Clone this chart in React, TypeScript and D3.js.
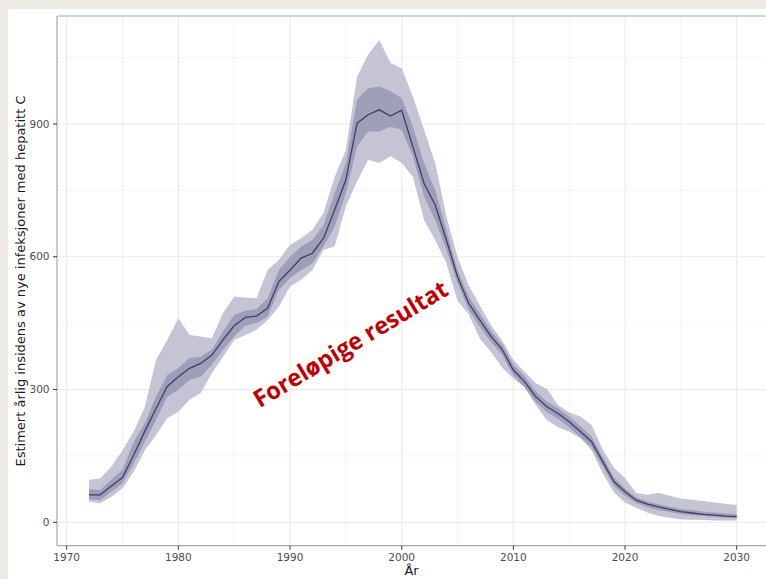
import React from 'react';
import * as d3 from 'd3';

// Estimated annual incidence of new hepatitis C infections, with uncertainty bands
const years: number[] = d3.range(1972, 2031);

const median: number[] = [
  62, 62, 82, 101, 152, 206, 257, 307, 329, 348,
  359, 378, 412, 444, 463, 466, 484, 544, 570, 597,
  608, 642, 706, 774, 902, 921, 932, 918, 931, 849,
  766, 717, 638, 555, 495, 457, 420, 390, 344, 318,
  284, 261, 246, 227, 205, 182, 137, 92, 69, 50,
  41, 35, 29, 24, 21, 18, 16, 14, 13,
];

const outerHigh: number[] = [
  96, 99, 126, 163, 205, 261, 367, 412, 461, 423,
  420, 416, 473, 510, 508, 506, 570, 593, 627, 642,
  661, 699, 781, 842, 1007, 1057, 1090, 1038, 1026, 962,
  887, 812, 691, 600, 535, 490, 445, 410, 367, 340,
  314, 302, 265, 248, 239, 220, 165, 123, 100, 66,
  62, 67, 60, 54, 51, 48, 45, 42, 39,
];

const outerLow: number[] = [
  47, 43, 58, 77, 114, 163, 197, 235, 250, 277,
  292, 337, 374, 412, 423, 435, 457, 487, 533, 548,
  570, 616, 623, 714, 770, 819, 812, 827, 812, 781,
  683, 638, 586, 500, 470, 415, 385, 350, 325, 305,
  265, 231, 215, 205, 190, 163, 110, 68, 45, 33,
  22, 14, 10, 7, 6, 5, 4, 4, 4,
];

const innerHigh: number[] = [
  75, 73, 96, 118, 182, 224, 284, 333, 348, 371,
  374, 390, 431, 469, 478, 482, 506, 570, 600, 623,
  638, 672, 744, 812, 955, 981, 985, 974, 959, 894,
  812, 751, 661, 570, 510, 472, 433, 402, 356, 330,
  296, 273, 258, 239, 217, 194, 148, 102, 76, 56,
  47, 41, 35, 30, 27, 24, 22, 20, 19,
];

const innerLow: number[] = [
  52, 50, 69, 88, 133, 182, 231, 284, 299, 322,
  329, 356, 390, 420, 444, 450, 465, 525, 552, 570,
  585, 623, 668, 744, 849, 883, 883, 894, 887, 827,
  737, 683, 616, 540, 480, 442, 407, 378, 332, 306,
  272, 249, 234, 215, 193, 170, 126, 82, 60, 43,
  34, 28, 23, 19, 16, 14, 12, 10, 9,
];

const xMajor: number[] = [1970, 1980, 1990, 2000, 2010, 2020, 2030];
const xMinor: number[] = [1965, 1975, 1985, 1995, 2005, 2015, 2025, 2035];
const yMajor: number[] = [0, 300, 600, 900];
const yMinor: number[] = [150, 450, 750, 1050];

const W = 766;
const H = 579;
const panel = { left: 57, top: 16, right: 766, bottom: 545.7 };

export default function App() {
  const x = d3.scaleLinear().domain([1970, 2030]).range([66.7, 736.7]);
  const y = d3.scaleLinear().domain([0, 900]).range([522.3, 124]);

  const rows = years.map((yr, i) => ({
    yr,
    m: median[i],
    oh: outerHigh[i],
    ol: outerLow[i],
    ih: innerHigh[i],
    il: innerLow[i],
  }));
  type Row = (typeof rows)[number];

  const outerArea = d3
    .area<Row>()
    .x((d) => x(d.yr))
    .y0((d) => y(d.ol))
    .y1((d) => y(d.oh));
  const innerArea = d3
    .area<Row>()
    .x((d) => x(d.yr))
    .y0((d) => y(d.il))
    .y1((d) => y(d.ih));
  const line = d3
    .line<Row>()
    .x((d) => x(d.yr))
    .y((d) => y(d.m));

  const tickFont = { fontFamily: 'DejaVu Sans, sans-serif', fontSize: 10.5, fill: '#4d4d4d' };

  return (
    <svg
      width={W}
      height={H}
      style={{ position: 'absolute', left: 0, top: 0 }}
      xmlns="http://www.w3.org/2000/svg"
    >
      <rect x={0} y={0} width={W} height={H} fill="#eeebe6" />
      <rect x={8} y={9} width={W - 8} height={H - 9} fill="#ffffff" />

      <defs>
        <clipPath id="panel-clip">
          <rect
            x={panel.left}
            y={panel.top}
            width={panel.right - panel.left}
            height={panel.bottom - panel.top}
          />
        </clipPath>
      </defs>

      <g clipPath="url(#panel-clip)">
        {yMinor.map((v) => (
          <line key={'ym' + v} x1={panel.left} x2={panel.right} y1={y(v)} y2={y(v)} stroke="#f3f3f3" strokeWidth={0.8} />
        ))}
        {xMinor.map((v) => (
          <line key={'xm' + v} x1={x(v)} x2={x(v)} y1={panel.top} y2={panel.bottom} stroke="#f3f3f3" strokeWidth={0.8} />
        ))}
        {yMajor.map((v) => (
          <line key={'yM' + v} x1={panel.left} x2={panel.right} y1={y(v)} y2={y(v)} stroke="#ebebeb" strokeWidth={1.2} />
        ))}
        {xMajor.map((v) => (
          <line key={'xM' + v} x1={x(v)} x2={x(v)} y1={panel.top} y2={panel.bottom} stroke="#ebebeb" strokeWidth={1.2} />
        ))}

        <path d={outerArea(rows) ?? ''} fill="#c4c4d5" />
        <path d={innerArea(rows) ?? ''} fill="#9e9eb8" />
        <path d={line(rows) ?? ''} fill="none" stroke="#3e3e66" strokeWidth={1.3} />
      </g>

      {/* panel frame: top and left border, bottom axis line */}
      <line x1={panel.left} x2={panel.right} y1={panel.top} y2={panel.top} stroke="#a8a8a8" strokeWidth={1.2} />
      <line x1={panel.left} x2={panel.left} y1={panel.top} y2={panel.bottom} stroke="#a8a8a8" strokeWidth={1.2} />
      <line x1={panel.left} x2={panel.right} y1={panel.bottom} y2={panel.bottom} stroke="#a8a8a8" strokeWidth={1.2} />

      {xMajor.map((v) => (
        <g key={'xt' + v}>
          <line x1={x(v)} x2={x(v)} y1={panel.bottom} y2={panel.bottom + 4} stroke="#333333" strokeWidth={1} />
          <text x={x(v)} y={560.5} textAnchor="middle" {...tickFont}>
            {v}
          </text>
        </g>
      ))}
      {yMajor.map((v) => (
        <g key={'yt' + v}>
          <line x1={panel.left - 4} x2={panel.left} y1={y(v)} y2={y(v)} stroke="#333333" strokeWidth={1} />
          <text x={49.5} y={y(v)} dy="0.35em" textAnchor="end" {...tickFont}>
            {v}
          </text>
        </g>
      ))}

      <text
        x={411.5}
        y={575}
        textAnchor="middle"
        fontFamily="DejaVu Sans, sans-serif"
        fontSize={13}
        fill="#1a1a1a"
      >
        År
      </text>
      <text
        transform="translate(24.5,281) rotate(-90)"
        textAnchor="middle"
        fontFamily="DejaVu Sans, sans-serif"
        fontSize={13}
        fill="#1a1a1a"
      >
        Estimert årlig insidens av nye infeksjoner med hepatitt C
      </text>

      <text
        transform="translate(350,343) rotate(-31)"
        textAnchor="middle"
        dominantBaseline="central"
        fontFamily="Open Sans, sans-serif"
        fontWeight="bold"
        fontSize={24}
        fill="#c00000"
        textLength={222}
        lengthAdjust="spacingAndGlyphs"
      >
        Foreløpige resultat
      </text>
    </svg>
  );
}
